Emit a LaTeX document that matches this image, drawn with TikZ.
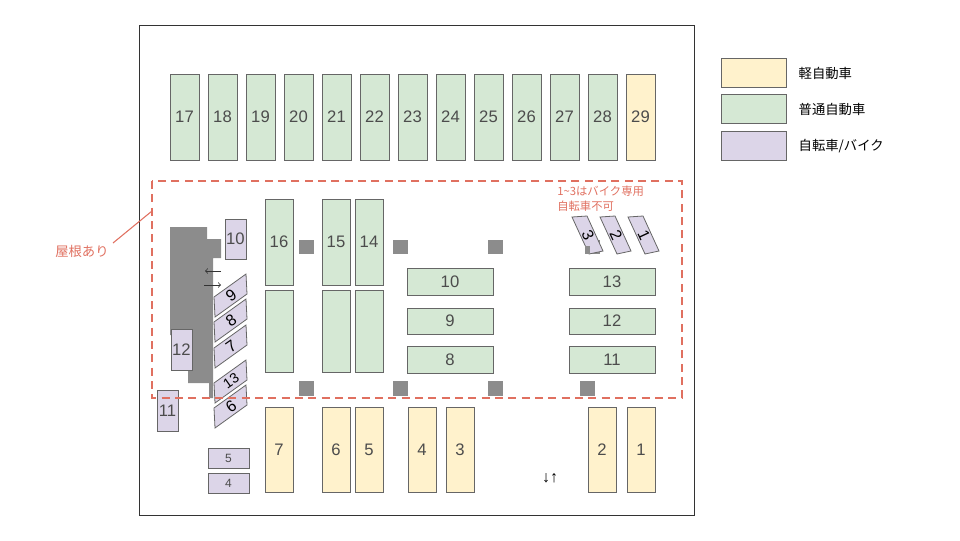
\documentclass[tikz,border=0pt]{standalone}
\usepackage{fontspec}
\setmainfont{Liberation Sans}
\newfontfamily\cjk{Noto Sans CJK JP}
\begin{document}
\begin{tikzpicture}[x=0.75pt,y=-0.75pt,
 sp/.style={draw=black!60,line width=0.6pt,text=black!70,font=\fontsize{12.5}{12}\selectfont},
 kei/.style={sp,fill={rgb,255:red,255;green,242;blue,204}},
 fu/.style={sp,fill={rgb,255:red,213;green,232;blue,212}},
 bk/.style={sp,fill={rgb,255:red,220;green,213;blue,232}},
 pil/.style={fill=black!45},
 rd/.style={draw={rgb,255:red,224;green,112;blue,96},line width=1.2pt}]
\useasboundingbox (0,0) rectangle (960,540);
\draw[black!80,line width=0.6pt] (139,25) rectangle (694,515);
% top row
\foreach \n [count=\i from 0] in {17,...,28}{
  \path[fu] (170+38*\i,74) rectangle node{\n} (199+38*\i,160);}
\path[kei] (626,74) rectangle node{29} (655,160);
% building
\fill[black!45] (170,227)--(207,227)--(207,239)--(221,239)--(221,258)--(213,258)--(213,398)--(209,398)--(209,383)--(188,383)--(188,335)--(170,335)--cycle;
% pillars
\foreach \x in {299,393,488,585}{\fill[pil] (\x,240) rectangle (\x+15,254);}
\foreach \x in {299,393,488,580}{\fill[pil] (\x,381) rectangle (\x+15,396);}
% middle
\path[fu] (265,199) rectangle node{16} (293,285);
\path[fu] (265,290) rectangle (293,372);
\path[fu] (322,199) rectangle node{15} (350,285);
\path[fu] (355,199) rectangle node{14} (383,285);
\path[fu] (322,290) rectangle (350,372);
\path[fu] (355,290) rectangle (383,372);
\path[fu] (407,268) rectangle node{10} (493,295);
\path[fu] (407,308) rectangle node{9} (493,334);
\path[fu] (407,346) rectangle node{8} (493,373);
\path[fu] (569,268) rectangle node{13} (655,295);
\path[fu] (569,308) rectangle node{12} (655,334);
\path[fu] (569,346) rectangle node{11} (655,373);
% bottom
\foreach \n/\x in {6/322,5/355,4/408,3/446,2/588,1/627}{
  \path[kei] (\x,407) rectangle node{\n} (\x+28,492);}
\path[kei] (265,407) rectangle node{7} (293,492);
% bikes
\path[bk] (225,219) rectangle node{10} (246,259);
\path[bk] (171,329) rectangle node{12} (192,370);
\path[bk] (157,390) rectangle node{11} (178,431);
\path[bk,font=\fontsize{9}{9}\selectfont] (208,448) rectangle node{5} (249,468);
\path[bk,font=\fontsize{9}{9}\selectfont] (208,473) rectangle node{4} (249,493);
\foreach \n/\y/\s in {9/297/12,8/322/12,7/348/12,13/383/10.5,6/408/12}{
  \path[bk] (214,\y)--(246,\y-23)--(247,\y-3)--(215,\y+20)--cycle;
  \node[text=black,font=\fontsize{\s}{12}\selectfont,rotate=35,inner sep=0pt] (b\n) at (231,\y-2) {\n};}
\foreach \n/\x in {3/572,2/600,1/628}{
  \path[bk] (\x,217)--(\x+15,216)--(\x+31,251)--(\x+17,254)--cycle;
  \node[text=black,font=\fontsize{12}{12}\selectfont,rotate=-65,inner sep=0pt] (t\n) at (\x+16,235) {\n};}
\fill[pil] (585,246) rectangle (590,254);
% arrows
\draw[->,black!80,line width=0.6pt] (221,271)--(205,271);
\draw[->,black!80,line width=0.6pt] (204,285)--(221,285);
\node[font=\fontsize{12}{12}\selectfont] (ud) at (550,478) {↓↑};
% roof
\draw[rd,dashed,dash pattern=on 6pt off 4pt] (152,181) rectangle (682,398);
\node[text={rgb,255:red,224;green,112;blue,96},font=\cjk\fontsize{10}{10}\selectfont] (roof) at (82,251) {屋根あり};
\draw[rd,line width=0.8pt] (113,243)--(152,211);
\node[text={rgb,255:red,224;green,112;blue,96},font=\cjk\fontsize{8.5}{11}\selectfont,align=left,anchor=north west,inner sep=0pt] (note) at (557,186) {1\textasciitilde 3はバイク専用\\自転車不可};
% legend
\path[kei] (721,58) rectangle (786,87);
\path[fu] (721,94) rectangle (786,123);
\path[bk] (721,131) rectangle (786,160);
\node[anchor=west,font=\cjk\fontsize{10}{10}\selectfont] (l1) at (794,73) {軽自動車};
\node[anchor=west,font=\cjk\fontsize{10}{10}\selectfont] (l2) at (794,109) {普通自動車};
\node[anchor=west,font=\cjk\fontsize{10}{10}\selectfont] (l3) at (794,146) {自転車/バイク};
\end{tikzpicture}
\end{document}
